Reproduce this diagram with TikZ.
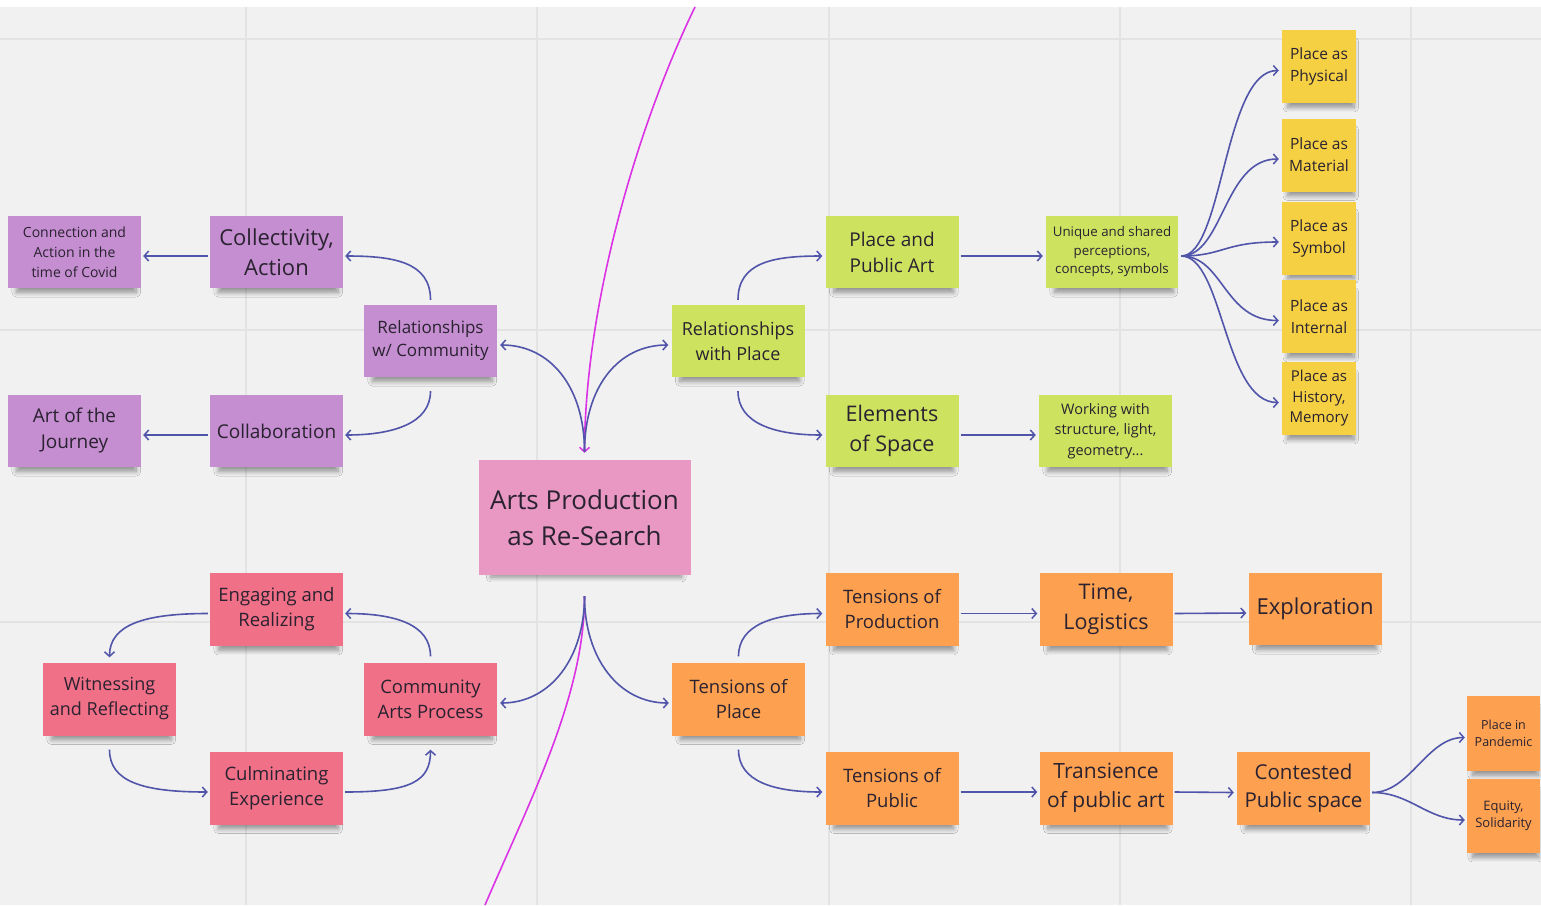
\documentclass[tikz,border=0pt]{standalone}
\usepackage{fontspec}
\setmainfont{Open Sans}
\usetikzlibrary{arrows.meta,shadows.blur}

\definecolor{board}{HTML}{F1F1F1}
\definecolor{gridline}{HTML}{E3E3E3}
\definecolor{ink}{HTML}{2A2230}
\definecolor{wire}{HTML}{5055AA}
\definecolor{thread}{HTML}{DC32E6}
\definecolor{plum}{HTML}{C48ED0}
\definecolor{rose}{HTML}{E898C3}
\definecolor{lime}{HTML}{CDE35F}
\definecolor{sun}{HTML}{F5D043}
\definecolor{coral}{HTML}{F07087}
\definecolor{tangerine}{HTML}{FDA050}

\begin{document}
\begin{tikzpicture}[x=1pt,y=-1pt,
  note/.style={rectangle, inner sep=0pt, align=center, text=ink,
    blur shadow={shadow xshift=2pt, shadow yshift=-9pt, shadow scale=0.9,
      shadow opacity=40, shadow blur radius=5pt, shadow blur steps=10}},
  wide/.style={note, minimum width=133pt, minimum height=72pt},
  tall/.style={note, minimum width=74pt, minimum height=73pt},
  fs/.style 2 args={font=\fontsize{#1}{#2}\selectfont},
  link/.style={draw=wire, line width=1.6pt,
    -{Straight Barb[length=4.5pt,width=10pt,line width=1.5pt]}},
  magline/.style={draw=thread, line width=1.6pt},
]
\useasboundingbox (0,0) rectangle (1541,905);

% board and grid
\fill[board] (0,0) rectangle (1541,905);
\fill[white] (0,0) rectangle (1541,7);
\foreach \gx in {246,537,829,1120,1411}
  \draw[gridline, line width=2pt] (\gx,7) -- (\gx,905);
\foreach \gy in {39,330,622}
  \draw[gridline, line width=2pt] (0,\gy) -- (1541,\gy);

% central note
\node[note, fill=rose, minimum width=212pt, minimum height=115pt, fs={26}{36}]
  (center) at (584.5,517.5) {Arts Production\\as Re-Search};

% community branch (purple)
\node[wide, fill=plum, fs={14}{20}] (covid) at (74.5,252) {Connection and\\Action in the\\time of Covid};
\node[wide, fill=plum, fs={22}{30}] (collect) at (276.5,252) {Collectivity,\\Action};
\node[wide, fill=plum, fs={19}{26}] (journey) at (74.5,431) {Art of the\\Journey};
\node[wide, fill=plum, fs={19}{26}] (collab) at (276.5,431) {Collaboration};
\node[wide, fill=plum, fs={17}{23}] (relcom) at (430.5,341) {Relationships\\w/ Community};

% place branch (green)
\node[wide, fill=lime, fs={18}{25}] (relplace) at (738,341) {Relationships\\with Place};
\node[wide, fill=lime, fs={19}{26}] (placeart) at (892,252) {Place and\\Public Art};
\node[wide, fill=lime, minimum width=132pt, fs={13.3}{18.5}] (unique) at (1112,252) {Unique and shared\\perceptions,\\concepts, symbols};
\node[wide, fill=lime, fs={21.5}{30}] (elements) at (892,431) {Elements\\of Space};
\node[wide, fill=lime, fs={14.5}{20.5}] (working) at (1105.5,431) {Working with\\structure, light,\\geometry...};

% facets of place (yellow)
\node[tall, fill=sun, fs={15.5}{22}] (physical) at (1319,66.5) {Place as\\Physical};
\node[tall, fill=sun, fs={15.5}{22}] (material) at (1319,155) {Place as\\Material};
\node[tall, fill=sun, fs={15.5}{22}] (symbol) at (1319,238) {Place as\\Symbol};
\node[tall, fill=sun, fs={15.5}{22}] (internal) at (1319,316.5) {Place as\\Internal};
\node[tall, fill=sun, fs={15}{20.5}] (history) at (1319,398.5) {Place as\\History,\\Memory};

% arts process cycle (red)
\node[wide, fill=coral, minimum height=73pt, fs={18.5}{25}] (engaging) at (276.5,609.5) {Engaging and\\Realizing};
\node[wide, fill=coral, minimum height=73pt, fs={18}{25}] (witnessing) at (109.5,699) {Witnessing\\and Reflecting};
\node[wide, fill=coral, minimum height=73pt, fs={18.5}{25}] (community) at (430.5,699) {Community\\Arts Process};
\node[wide, fill=coral, minimum height=73pt, fs={18.5}{25}] (culminating) at (276.5,788) {Culminating\\Experience};

% tensions branch (orange)
\node[wide, fill=tangerine, minimum height=73pt, fs={18.5}{25}] (tplace) at (738.5,699) {Tensions of\\Place};
\node[wide, fill=tangerine, minimum height=73pt, fs={18.5}{25}] (tprod) at (892,609.5) {Tensions of\\Production};
\node[wide, fill=tangerine, minimum height=73pt, fs={21.5}{30}] (time) at (1106,609.5) {Time,\\Logistics};
\node[wide, fill=tangerine, fs={22}{30}] (exploration) at (1315,609) {Exploration};
\node[wide, fill=tangerine, minimum height=73pt, fs={18.5}{25}] (tpublic) at (892,788) {Tensions of\\Public};
\node[wide, fill=tangerine, minimum height=73pt, fs={21}{29}] (transience) at (1106,788) {Transience\\of public art};
\node[wide, fill=tangerine, minimum height=73pt, fs={20.5}{28}] (contested) at (1303.5,788.5) {Contested\\Public space};
\node[tall, fill=tangerine, minimum width=73pt, minimum height=75pt, fs={12.5}{17.5}] (pandemic) at (1503.5,733.5) {Place in\\Pandemic};
\node[tall, fill=tangerine, minimum width=73pt, minimum height=74pt, fs={13}{17.5}] (equity) at (1503.5,816) {Equity,\\Solidarity};

% hub points above and below the central note
\coordinate (ctop) at ([yshift=8pt]center.north);
\coordinate (cbot) at ([yshift=-21pt]center.south);
\coordinate (mtop) at (695,7);
\coordinate (mbot) at (485,905);

% magenta thread through the centre
\draw[magline, -{Straight Barb[length=4.5pt,width=10pt,line width=1.5pt]}]
  (mtop) .. controls (640,120) and (585,300) .. ([yshift=7pt]center.north);
\draw[magline] (cbot) .. controls +(0,100) and (530,800) .. (mbot);

% community connectors
\draw[link] ([xshift=-2pt,yshift=-4pt]collect.west) -- ([xshift=2pt,yshift=-4pt]covid.east);
\draw[link] ([xshift=-2pt,yshift=-4pt]collab.west) -- ([xshift=2pt,yshift=-4pt]journey.east);
\draw[link] ([yshift=5pt]relcom.north) .. controls +(0,-38) and +(48,0) .. ([xshift=2pt,yshift=-4pt]collect.east);
\draw[link] ([yshift=-14pt]relcom.south) .. controls +(0,32) and +(48,0) .. ([xshift=2pt,yshift=-4pt]collab.east);
\draw[link] (ctop) .. controls +(0,-65) and +(50,0) .. ([xshift=3pt,yshift=-4pt]relcom.east);

% place connectors
\draw[link] (ctop) .. controls +(0,-65) and +(-50,0) .. ([xshift=-3pt,yshift=-4pt]relplace.west);
\draw[link] ([yshift=5pt]relplace.north) .. controls +(0,-38) and +(-48,0) .. ([xshift=-3pt,yshift=-4pt]placeart.west);
\draw[link] ([yshift=-14pt]relplace.south) .. controls +(0,32) and +(-48,0) .. ([xshift=-3pt,yshift=-4pt]elements.west);
\draw[link] ([xshift=2pt,yshift=-4pt]placeart.east) -- ([xshift=-3pt,yshift=-4pt]unique.west);
\draw[link] ([xshift=2pt,yshift=-4pt]elements.east) -- ([xshift=-3pt,yshift=-4pt]working.west);
\foreach \facet in {physical,material,symbol,internal,history}
  \draw[link] ([xshift=3pt,yshift=-4pt]unique.east) .. controls +(42,0) and +(-55,0) .. ([xshift=-3pt,yshift=-4pt]\facet.west);

% arts process cycle connectors
\draw[link] (cbot) .. controls +(0,62) and +(50,0) .. ([xshift=3pt,yshift=-4pt]community.east);
\draw[link] ([yshift=6pt]community.north) .. controls +(0,-32) and +(50,0) .. ([xshift=2pt,yshift=-4pt]engaging.east);
\draw[link] ([xshift=-2pt,yshift=-4pt]engaging.west) .. controls +(-65,0) and +(0,-32) .. ([yshift=5pt]witnessing.north);
\draw[link] ([yshift=-14pt]witnessing.south) .. controls +(0,32) and +(-65,0) .. ([xshift=-2pt,yshift=-4pt]culminating.west);
\draw[link] ([xshift=2pt,yshift=-4pt]culminating.east) .. controls +(65,0) and +(0,32) .. ([yshift=-14pt]community.south);

% tensions connectors
\draw[link] (cbot) .. controls +(0,62) and +(-50,0) .. ([xshift=-3pt,yshift=-4pt]tplace.west);
\draw[link] ([yshift=6pt]tplace.north) .. controls +(0,-32) and +(-48,0) .. ([xshift=-3pt,yshift=-4pt]tprod.west);
\draw[link] ([yshift=-14pt]tplace.south) .. controls +(0,32) and +(-48,0) .. ([xshift=-3pt,yshift=-4pt]tpublic.west);
\draw[link] ([xshift=2pt,yshift=-4pt]tprod.east) -- ([xshift=-2pt,yshift=-4pt]time.west);
\draw[link] ([xshift=2pt,yshift=-4pt]time.east) -- ([xshift=-2pt,yshift=-4pt]exploration.west);
\draw[link] ([xshift=2pt,yshift=-4pt]tpublic.east) -- ([xshift=-2pt,yshift=-4pt]transience.west);
\draw[link] ([xshift=2pt,yshift=-4pt]transience.east) -- ([xshift=-3pt,yshift=-4pt]contested.west);
\draw[link] ([xshift=2pt,yshift=-4pt]contested.east) .. controls +(38,0) and +(-38,0) .. ([xshift=-2pt,yshift=-4pt]pandemic.west);
\draw[link] ([xshift=2pt,yshift=-4pt]contested.east) .. controls +(38,0) and +(-38,0) .. ([xshift=-2pt,yshift=-4pt]equity.west);
\end{tikzpicture}
\end{document}
